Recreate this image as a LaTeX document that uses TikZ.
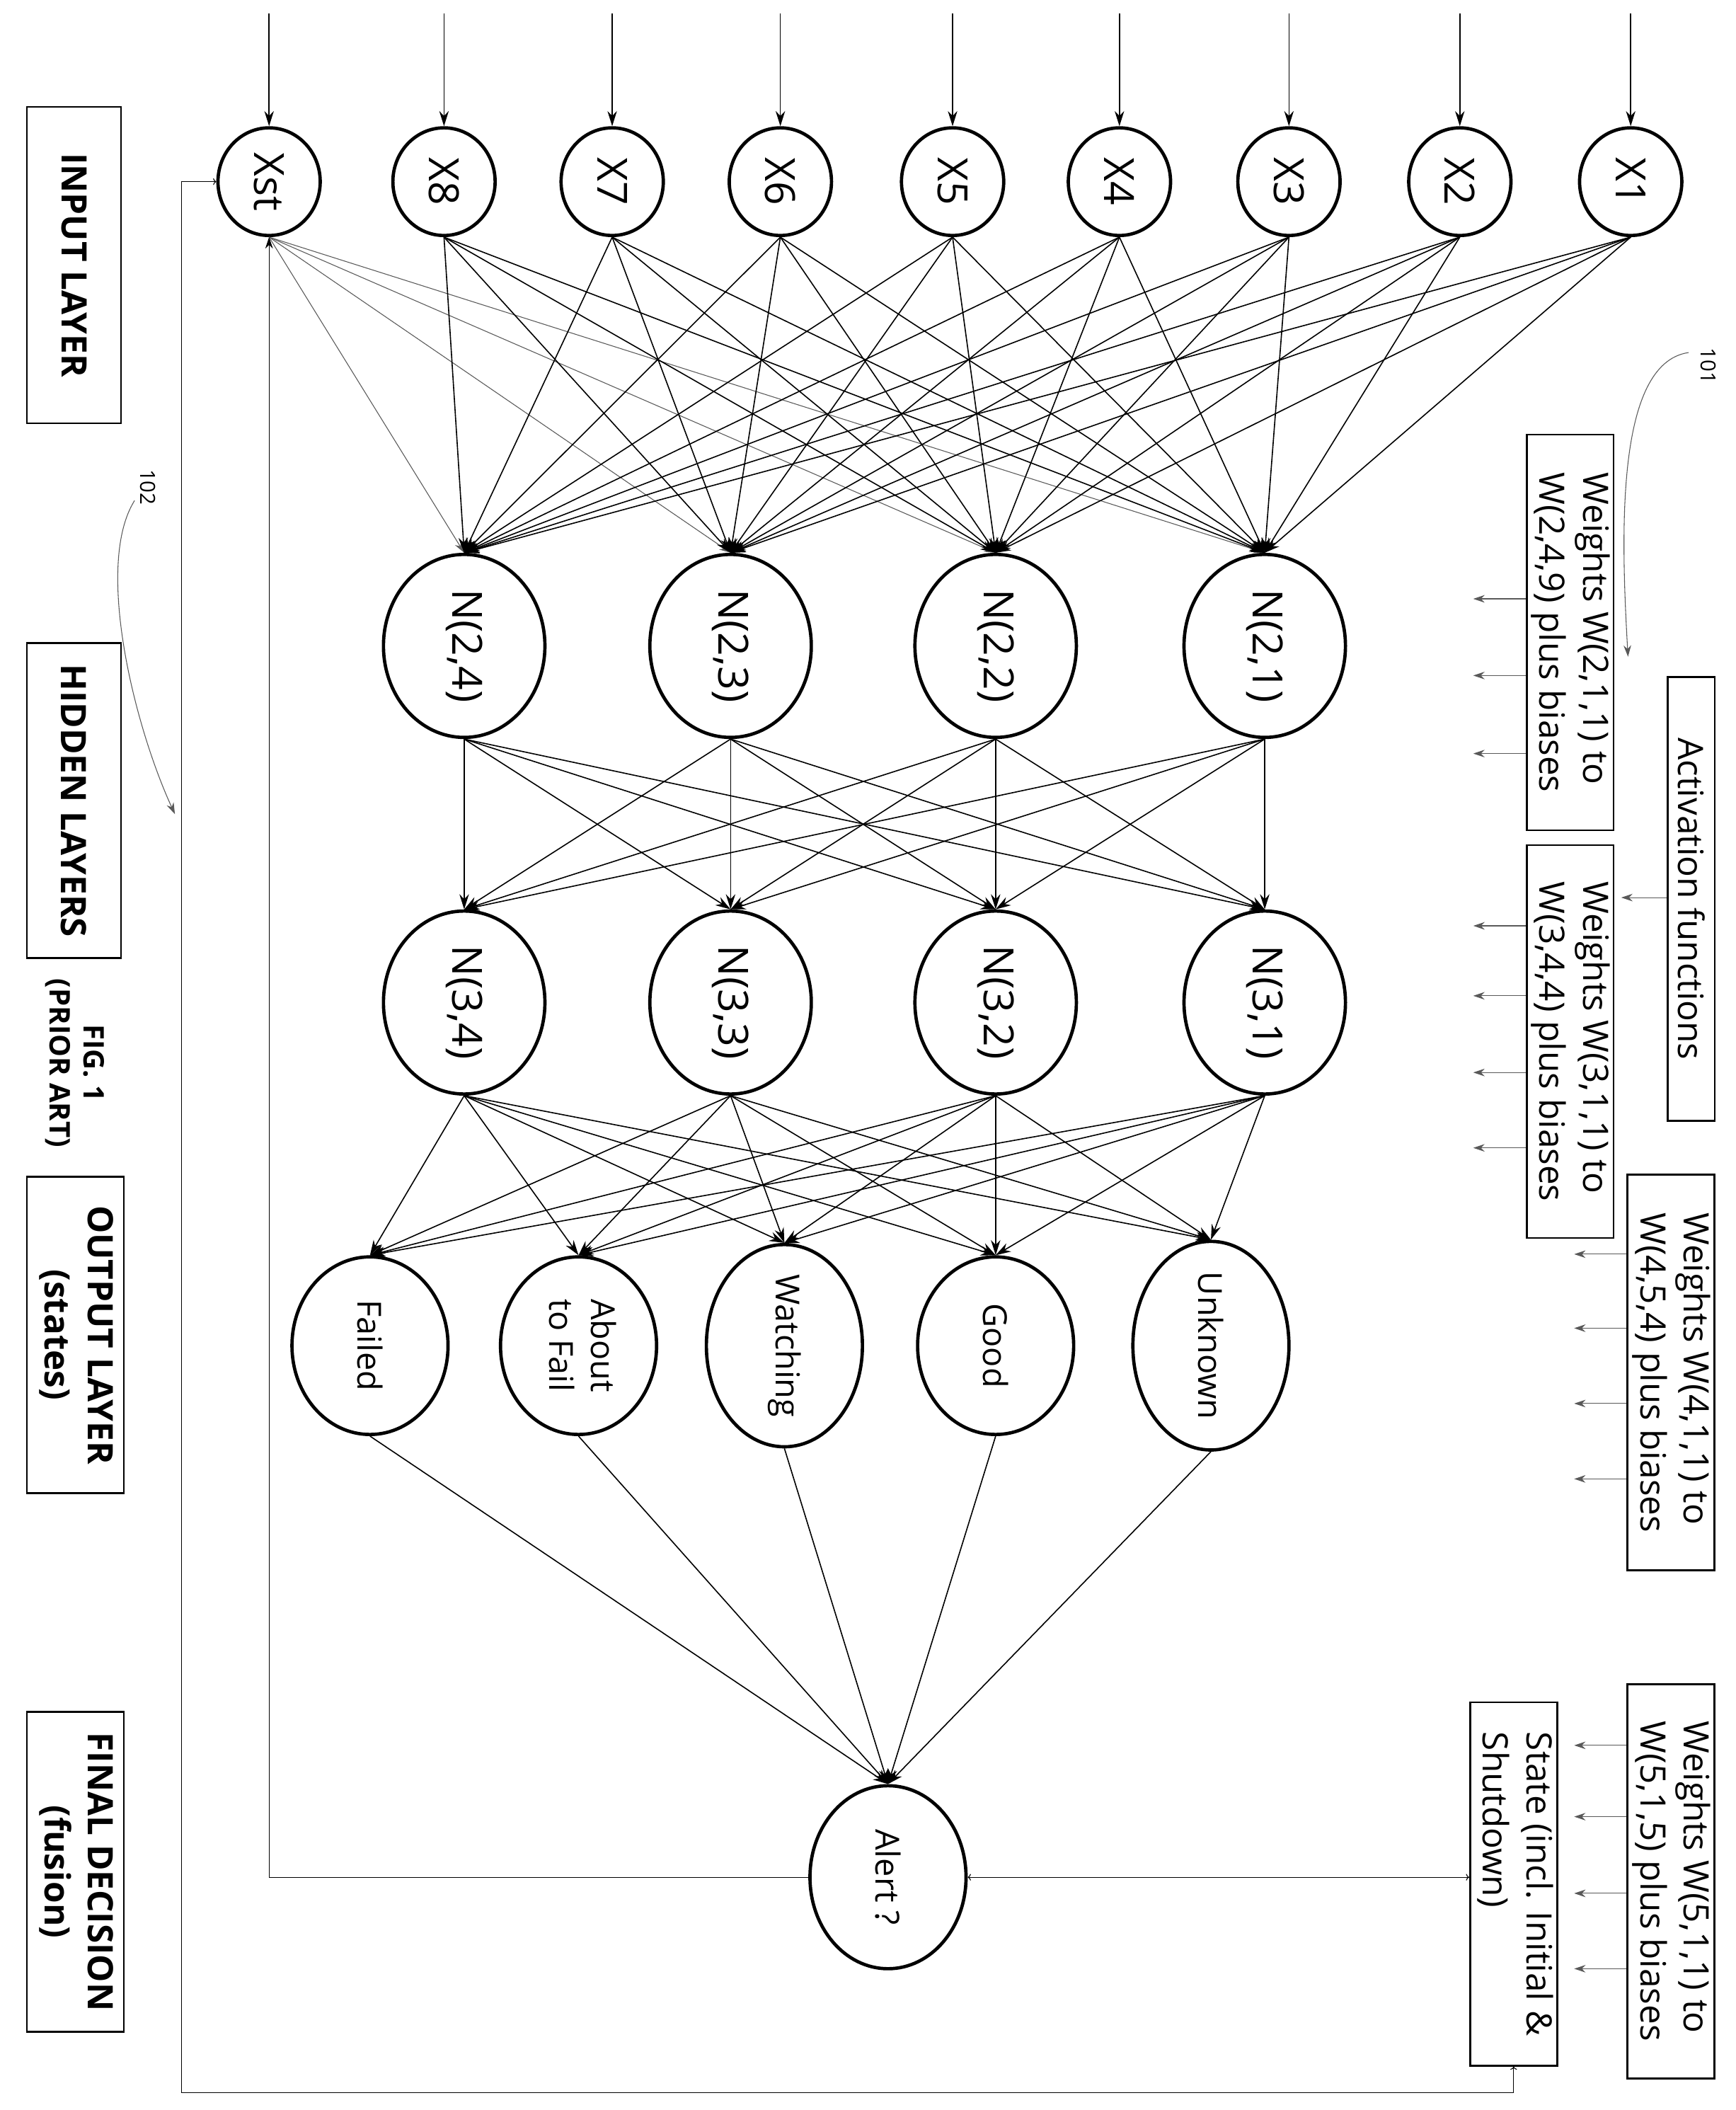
\documentclass[tikz,border=0pt]{standalone}
\usepackage{fontspec}
\setmainfont{Open Sans}
\usetikzlibrary{shapes.geometric,arrows.meta}
\begin{document}
\begin{tikzpicture}[x=0.05cm,y=-0.05cm,
  nd/.style={ellipse,draw,line width=3.5pt,inner sep=0pt},
  bx/.style={draw,line width=2pt,inner sep=0pt},
  cn/.style={line width=1.2pt,-{Stealth[length=16pt,width=10pt]}},
  sm/.style={line width=0.8pt,gray!70!black,-{Stealth[length=12pt,width=8pt]}},
  fs/.style={font=\fontsize{44}{54}\selectfont},
  fb/.style={font=\fontsize{37}{46}\selectfont},
  fo/.style={font=\fontsize{35}{44}\selectfont}]
\useasboundingbox (0,0) rectangle (1290,1568);
% input
\node[nd,minimum width=3.8cm,minimum height=4cm,fs] (x0) at (200,135) {\rotatebox{-90}{Xst}};
\foreach \i/\xx in {8/330,7/455,6/580,5/708,4/832,3/958,2/1085,1/1212}{
  \node[nd,minimum width=3.8cm,minimum height=4cm,fs] (x\i) at (\xx,135) {\rotatebox{-90}{X\i}};
  \coordinate (t\i) at (\xx,10);
  \draw[cn] (t\i) -- (x\i);}
\coordinate (t0) at (200,10); \draw[cn] (t0) -- (x0);
% hidden
\foreach \i/\xx in {1/940,2/740,3/543,4/345}{
  \node[nd,minimum width=6cm,minimum height=6.8cm,fs] (h2\i) at (\xx,480) {\rotatebox{-90}{N(2,\i)}};
  \node[nd,minimum width=6cm,minimum height=6.8cm,fs] (h3\i) at (\xx,745) {\rotatebox{-90}{N(3,\i)}};}
% outputs
\node[nd,minimum width=5.8cm,minimum height=6.6cm,fo] (o1) at (900,1000) {\rotatebox{-90}{Unknown}};
\node[nd,minimum width=5.8cm,minimum height=6.6cm,fo] (o2) at (740,1000) {\rotatebox{-90}{Good}};
\node[nd,minimum width=5.8cm,minimum height=6.6cm,fo] (o3) at (583,1000) {\rotatebox{-90}{Watching}};
\node[nd,minimum width=5.8cm,minimum height=6.6cm,fo] (o4) at (430,1000) {\rotatebox{-90}{\begin{tabular}{c}About\\to Fail\end{tabular}}};
\node[nd,minimum width=5.8cm,minimum height=6.6cm,fo] (o5) at (275,1000) {\rotatebox{-90}{Failed}};
\node[nd,minimum width=5.8cm,minimum height=6.8cm,fo] (al) at (660,1395) {\rotatebox{-90}{Alert ?}};
% connections
\foreach \h in {1,2,3,4}{
  \draw[sm] (x0.south) -- (h2\h.north);
  \foreach \i in {1,...,8}{\draw[cn] (x\i.south) -- (h2\h.north);}
  \foreach \g in {1,2,3,4}{\draw[cn] (h2\h.south) -- (h3\g.north);}
  \foreach \o in {1,...,5}{\draw[cn] (h3\h.south) -- (o\o.north);}}
\foreach \o in {1,...,5}{\draw[cn] (o\o.south) -- (al.north);}
% left labels
\node[bx,minimum width=3.5cm,minimum height=11.75cm,fb] (l1) at (55,197) {\rotatebox{-90}{\bfseries INPUT LAYER}};
\node[bx,minimum width=3.5cm,minimum height=11.7cm,fb] (l2) at (55,595) {\rotatebox{-90}{\bfseries HIDDEN LAYERS}};
\node[font=\fontsize{30}{36}\selectfont] (fig) at (55,790) {\rotatebox{-90}{\bfseries\begin{tabular}{c}FIG. 1\\(PRIOR ART)\end{tabular}}};
\node[bx,minimum width=3.6cm,minimum height=11.75cm,fb] (l3) at (56,992) {\rotatebox{-90}{\bfseries\begin{tabular}{c}OUTPUT LAYER\\(states)\end{tabular}}};
\node[bx,minimum width=3.6cm,minimum height=11.9cm,fb] (l4) at (56,1391) {\rotatebox{-90}{\bfseries\begin{tabular}{c}FINAL DECISION\\(fusion)\end{tabular}}};
% right boxes
\node[bx,minimum width=1.75cm,minimum height=16.5cm,fb] (act) at (1257,668) {\rotatebox{-90}{Activation functions}};
\node[bx,minimum width=2.75cm,minimum height=14.7cm,fb] (w2) at (1167,470) {\rotatebox{-90}{\begin{tabular}{l}Weights W(2,1,1) to\\W(2,4,9) plus biases\end{tabular}}};
\node[bx,minimum width=2.75cm,minimum height=14.6cm,fb] (w3) at (1167,774) {\rotatebox{-90}{\begin{tabular}{l}Weights W(3,1,1) to\\W(3,4,4) plus biases\end{tabular}}};
\node[bx,minimum width=2.75cm,minimum height=14.7cm,fb] (w4) at (1242,1020) {\rotatebox{-90}{\begin{tabular}{l}Weights W(4,1,1) to\\W(4,5,4) plus biases\end{tabular}}};
\node[bx,minimum width=2.75cm,minimum height=14.65cm,fb] (w5) at (1242,1398) {\rotatebox{-90}{\begin{tabular}{l}Weights W(5,1,1) to\\W(5,1,5) plus biases\end{tabular}}};
\node[bx,minimum width=2.7cm,minimum height=13.5cm,fb] (st) at (1125,1400) {\rotatebox{-90}{\begin{tabular}{l}State (incl. Initial \&\\Shutdown)\end{tabular}}};
% small arrows
\foreach \yy in {445,502,560}{\coordinate (a\yy) at (1095,\yy); \draw[sm] (w2.west|-a\yy) -- (a\yy);}
\foreach \yy in {688,740,797,853}{\coordinate (a\yy) at (1095,\yy); \draw[sm] (w3.west|-a\yy) -- (a\yy);}
\foreach \yy in {932,987,1043,1099}{\coordinate (a\yy) at (1170,\yy); \draw[sm] (w4.west|-a\yy) -- (a\yy);}
\foreach \yy in {1297,1350,1407,1463}{\coordinate (a\yy) at (1170,\yy); \draw[sm] (w5.west|-a\yy) -- (a\yy);}
\coordinate (aa) at (1205,667); \draw[sm] (act.west|-aa) -- (aa);
% labels 101,102
\node[font=\fontsize{22}{26}\selectfont] (n101) at (1270,272) {\rotatebox{-90}{101}};
\coordinate (e101) at (1210,488);
\draw[sm] (1255,262) .. controls (1200,270) and (1205,400) .. (e101);
\node[font=\fontsize{22}{26}\selectfont] (n102) at (110,362) {\rotatebox{-90}{102}};
\coordinate (e102) at (130,605);
\draw[sm] (100,372) .. controls (70,420) and (100,540) .. (e102);
% feedback
\draw[sm,black] (al.west) -| (x0.south);
\coordinate (ca) at (135,1555);
\draw[sm,black,<->] (x0.west) -| (ca) -| (st.south);
\draw[sm,black,<->] (al.east) -- (st.west|-al.east);
\end{tikzpicture}
\end{document}
